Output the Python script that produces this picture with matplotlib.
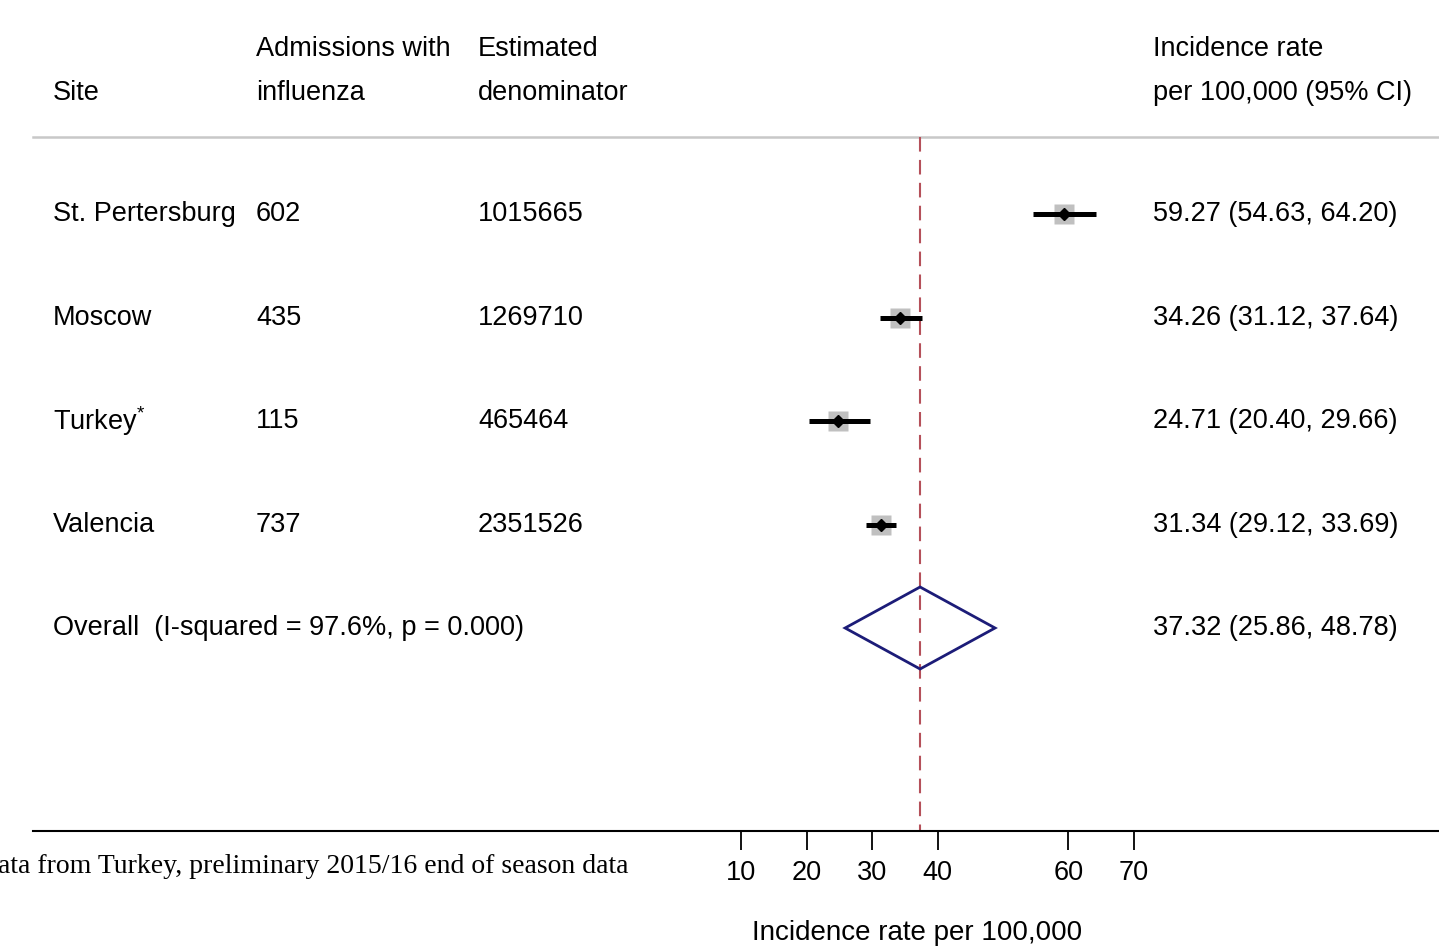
import numpy as np
import matplotlib
matplotlib.use("Agg")
import matplotlib.pyplot as plt
from matplotlib.transforms import blended_transform_factory

plt.rcParams['font.family'] = ['Liberation Sans', 'DejaVu Sans']
plt.rcParams['mathtext.fontset'] = 'custom'
plt.rcParams['mathtext.rm'] = 'Liberation Sans'
plt.rcParams['mathtext.it'] = 'Liberation Sans'

# Data
sites = ["St. Pertersburg", "Moscow", "Turkey$^{*}$", "Valencia"]
admissions = [602, 435, 115, 737]
denominators = [1015665, 1269710, 465464, 2351526]
rate = [59.27, 34.26, 24.71, 31.34]
ci_low = [54.63, 31.12, 20.40, 29.12]
ci_high = [64.20, 37.64, 29.66, 33.69]
overall = (37.32, 25.86, 48.78)
overall_label = "Overall  (I-squared = 97.6%, p = 0.000)"
xticks = [10, 20, 30, 40, 60, 70]

W, H = 1439, 947
FS = 19.5
fig = plt.figure(figsize=(W / 100, H / 100), dpi=100)

# axes: bottom spine is the x axis line (pixel y=831), spanning x 33..1439
ax_left, ax_bottom = 33 / W, (H - 831) / H
ax = fig.add_axes([ax_left, ax_bottom, 1 - ax_left, 1 - ax_bottom])
px_per_unit = 6.54
x0_px = 676
ax.set_xlim((33 - x0_px) / px_per_unit, (W - x0_px) / px_per_unit)
# rows: index i -> pixel 214 + 103.5*i
row0, step = 214, 103.5
ax.set_ylim((831 - row0) / step, (0 - row0) / step)

for s in ['top', 'right', 'left']:
    ax.spines[s].set_visible(False)
ax.spines['bottom'].set_linewidth(1.5)
ax.set_yticks([])
ax.set_xticks(xticks)
ax.set_xticklabels([str(t) for t in xticks])
ax.tick_params(axis='x', direction='out', length=14, width=1.3, pad=7,
               labelsize=FS, colors='black')

def py(px):
    return (px - row0) / step

# header
fx = blended_transform_factory(fig.transFigure, ax.transData)
hdr_kw = dict(fontsize=FS, va='center', transform=fx, color='black')
ax.text(53 / W, py(93), "Site", **hdr_kw)
ax.text(256 / W, py(49), "Admissions with", **hdr_kw)
ax.text(256 / W, py(93), "influenza", **hdr_kw)
ax.text(478 / W, py(49), "Estimated", **hdr_kw)
ax.text(478 / W, py(93), "denominator", **hdr_kw)
ax.text(1153 / W, py(49), "Incidence rate", **hdr_kw)
ax.text(1153 / W, py(93), "per 100,000 (95% CI)", **hdr_kw)
ax.plot([ax.get_xlim()[0], ax.get_xlim()[1]], [py(137), py(137)],
        color='#c8c8c8', lw=1.8, clip_on=False)

# reference line at overall estimate
ax.plot([overall[0], overall[0]], [py(137), py(831)], color='#b5505a',
        lw=1.5, dashes=(7, 4))

# study rows
ys = np.arange(len(sites))
for i in range(len(sites)):
    ax.text(53 / W, ys[i], sites[i], **hdr_kw)
    ax.text(256 / W, ys[i], str(admissions[i]), **hdr_kw)
    ax.text(478 / W, ys[i], str(denominators[i]), **hdr_kw)
    ax.text(1153 / W, ys[i], f"{rate[i]:.2f} ({ci_low[i]:.2f}, {ci_high[i]:.2f})", **hdr_kw)
    ax.plot(rate[i], ys[i], marker='s', ms=14, color='#c0c0c0', mec='none', zorder=2)
    ax.plot([ci_low[i], ci_high[i]], [ys[i], ys[i]], color='black', lw=3.6,
            solid_capstyle='butt', zorder=3)
    ax.plot(rate[i], ys[i], marker='D', ms=6, color='black', zorder=4)

# overall diamond
yo = len(sites)
h = 41 / step
est, lo, hi = overall
ax.fill([lo, est, hi, est, lo], [yo, yo - h, yo, yo + h, yo], facecolor='none',
        edgecolor='#1c1c78', lw=2, zorder=3)
ax.text(53 / W, yo, overall_label, **hdr_kw)
ax.text(1153 / W, yo, f"{est:.2f} ({lo:.2f}, {hi:.2f})", **hdr_kw)

# axis title and footnote
fig.text(917 / W, 1 - 933 / H, "Incidence rate per 100,000", fontsize=20,
         ha='center', va='center')
fig.text(628 / W, 1 - 866 / H, "ata from Turkey, preliminary 2015/16 end of season data",
         fontsize=20, ha='right', va='center', family=['Liberation Serif', 'DejaVu Serif'])

fig.savefig("out.png", dpi=100)
